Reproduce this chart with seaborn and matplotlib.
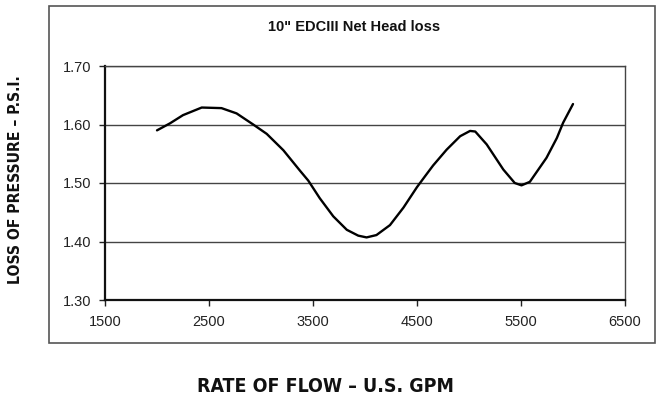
import numpy as np
import pandas as pd
import matplotlib
matplotlib.use("Agg")
import matplotlib.pyplot as plt
import seaborn as sns
from matplotlib.patches import Rectangle
from matplotlib import font_manager as fm

# Values
flow_gpm = [2000, 2125, 2250, 2430, 2620, 2765, 2925, 3055, 3215, 3375, 3455, 3565,
            3695, 3825, 3935, 4015, 4110, 4240, 4370, 4500, 4575, 4655, 4785, 4915,
            5010, 5060, 5170, 5330, 5440, 5505, 5585, 5745, 5845, 5905, 6000]
head_loss = [1.590, 1.602, 1.616, 1.629, 1.628, 1.619, 1.600, 1.584, 1.556, 1.521, 1.504, 1.474,
             1.443, 1.420, 1.410, 1.407, 1.411, 1.428, 1.458, 1.493, 1.511, 1.530, 1.557, 1.580,
             1.589, 1.588, 1.566, 1.523, 1.500, 1.496, 1.502, 1.543, 1.577, 1.603, 1.635]
x_ticks = [1500, 2500, 3500, 4500, 5500, 6500]
y_ticks = [1.30, 1.40, 1.50, 1.60, 1.70]

df = pd.DataFrame({"flow": flow_gpm, "loss": head_loss})

sns.set_theme(style="white")
plt.rcParams['font.family'] = ['Liberation Sans', 'DejaVu Sans']

# condensed bold face for the axis captions, if one is installed
cap_file = None
for f in fm.fontManager.ttflist:
    name_narrow = "Narrow" in f.name or "Condensed" in f.name
    stretch_narrow = f.stretch in ("condensed", "semi-condensed", "extra-condensed") or \
        (isinstance(f.stretch, int) and f.stretch < 500)
    if (name_narrow or stretch_narrow) and f.weight in ("bold", 700):
        cap_file = f.fname
        break

fig = plt.figure(figsize=(6.58, 4.03), dpi=100)
fig.patch.set_facecolor("white")

# outer chart box
fig.patches.append(Rectangle((49 / 658, 1 - 343 / 403), 606 / 658, 337 / 403,
                             transform=fig.transFigure, fill=False,
                             edgecolor="#555555", linewidth=1.2))

ax = fig.add_axes([105 / 658, 1 - 300 / 403, 520 / 658, 234 / 403])
ax.set_facecolor("white")

for y in y_ticks[1:]:
    ax.axhline(y, color="#444444", linewidth=1.0, zorder=1)

sns.lineplot(data=df, x="flow", y="loss", ax=ax, color="black", linewidth=1.7, zorder=3)

ax.set_xlim(1500, 6500)
ax.set_ylim(1.30, 1.70)
ax.set_xticks(x_ticks)
ax.set_yticks(y_ticks)
ax.set_xticklabels([str(v) for v in x_ticks])
ax.set_yticklabels([f"{v:.2f}" for v in y_ticks])
ax.tick_params(axis="both", labelsize=10.5, colors="#222222", length=4, width=1,
               direction="out")
ax.tick_params(axis="y", left=True, pad=6)
ax.tick_params(axis="x", bottom=True, pad=7)
ax.set_xlabel("")
ax.set_ylabel("")

for side in ["left", "bottom"]:
    ax.spines[side].set_color("#111111")
    ax.spines[side].set_linewidth(1.6)
for side in ["top", "right"]:
    ax.spines[side].set_color("#444444")
    ax.spines[side].set_linewidth(1.0)

fig.text(354 / 658, 1 - 27 / 403, '10" EDCIII Net Head loss', ha="center", va="center",
         fontsize=10.5, fontweight="bold", color="#111111")

if cap_file:
    cap_kw = dict(fontproperties=fm.FontProperties(fname=cap_file, size=14))
else:
    cap_kw = dict(family=['DejaVu Sans'], fontweight="bold", fontsize=14)

xlab = fig.text(325 / 658, 1 - 387 / 403, "RATE OF FLOW – U.S. GPM", ha="center",
                va="center", color="#111111", **cap_kw)
ylab = fig.text(16 / 658, 1 - 180 / 403, "LOSS OF PRESSURE – P.S.I.", ha="center",
                va="center", rotation=90, color="#111111", **cap_kw)

# fit caption lengths to the original (about 257 px and 210 px)
renderer = fig.canvas.get_renderer()
for txt, target, horiz in [(xlab, 257, True), (ylab, 210, False)]:
    bb = txt.get_window_extent(renderer)
    cur = bb.width if horiz else bb.height
    txt.set_fontsize(txt.get_fontsize() * target / cur)

fig.savefig("out.png", dpi=100)
